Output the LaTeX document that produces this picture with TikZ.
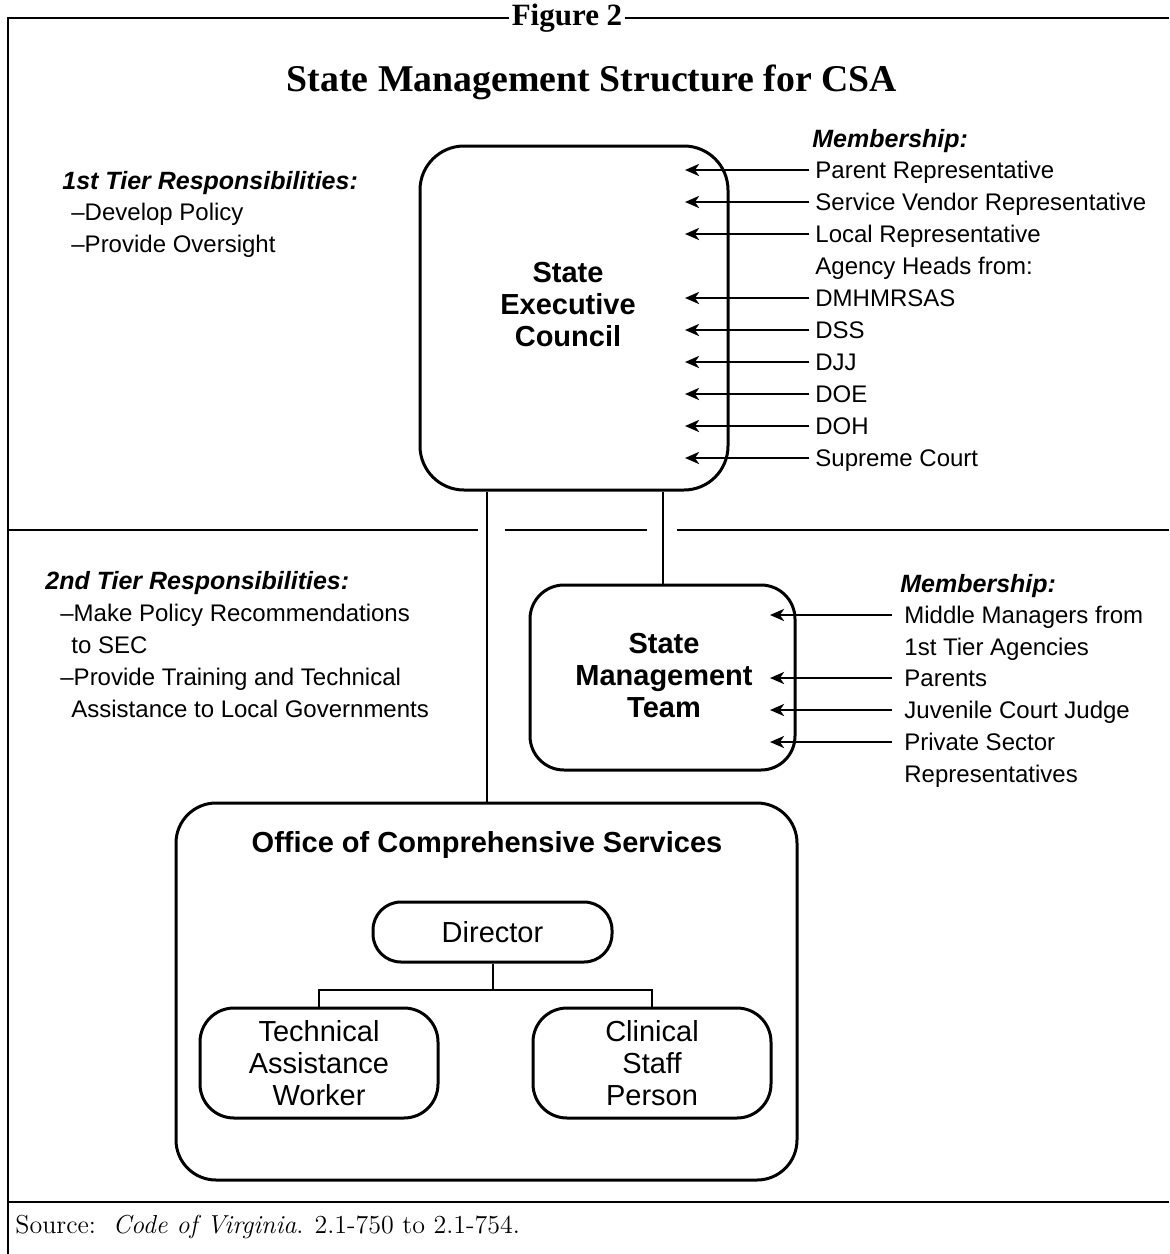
\documentclass[tikz,border=0pt]{standalone}
\usepackage{fontspec}
\setsansfont{Liberation Sans}
\newfontfamily\timesf{Liberation Serif}
\usetikzlibrary{arrows.meta}
\tikzset{
  frameline/.style={line width=1pt},
  box/.style={draw, line width=1.5pt, inner sep=0pt, align=center},
  conn/.style={line width=1pt},
  arr/.style={line width=1.3pt, -{Stealth[length=7pt,width=6pt,inset=2pt]}},
  memb/.style={font=\sffamily\fontsize{12}{16}\selectfont, anchor=west, inner xsep=3pt, inner ysep=0pt, text height=8.6pt, text depth=0pt},
  membhead/.style={font=\sffamily\bfseries\itshape\fontsize{12.5}{16}\selectfont, anchor=west, inner xsep=0pt, inner ysep=0pt, text height=9pt, text depth=0pt},
  btext/.style={font=\sffamily\bfseries\fontsize{14.5}{16}\selectfont, align=center, inner sep=0pt},
  rtext/.style={font=\sffamily\fontsize{14.5}{16}\selectfont}
}
\begin{document}
\begin{tikzpicture}[x=0.5pt,y=-0.5pt]
\useasboundingbox (0,0) rectangle (1169,1254);

% frame
\node[font=\timesf\bfseries\fontsize{15.5}{18}\selectfont, inner xsep=1pt, inner ysep=0pt] (fig) at (567,18) {Figure 2};
\coordinate (tl) at (8,18);
\coordinate (tr) at (1169,18);
\coordinate (bl) at (8,1202);
\coordinate (br) at (1169,1202);
\draw[frameline] (fig.west |- tl) -- (tl) -- (8,1254);
\draw[frameline] (fig.east |- tr) -- (tr);
\draw[frameline] (bl) -- (br);

\node[font=\timesf\bfseries\fontsize{18.9}{22}\selectfont] (title) at (592,82) {State Management Structure for CSA};

% divider
\draw[frameline] (8,530) -- (478,530);
\draw[frameline] (505,530) -- (647,530);
\draw[frameline] (677,530) -- (1169,530);

% State Executive Council
\node[box, minimum width=154pt, minimum height=172pt, rounded corners=22pt] (sec) at (574,318) {};
\node[btext] (sectxt) at (568,305) {State\\Executive\\Council};

\node[membhead] (h1) at (812,138) {Membership:};
\node[memb] (m1) at (809,170) {Parent Representative};
\node[memb] (m2) at (809,202) {Service Vendor Representative};
\node[memb] (m3) at (809,234) {Local Representative};
\node[memb] (m4) at (809,266) {Agency Heads from:};
\node[memb] (m5) at (809,298) {DMHMRSAS};
\node[memb] (m6) at (809,330) {DSS};
\node[memb] (m7) at (809,362) {DJJ};
\node[memb] (m8) at (809,394) {DOE};
\node[memb] (m9) at (809,426) {DOH};
\node[memb] (m10) at (809,458) {Supreme Court};
\coordinate (secin) at (685,0);
\foreach \m in {m1,m2,m3,m5,m6,m7,m8,m9,m10}
  \draw[arr] (\m.west) -- (\m.west -| secin);

% 1st tier
\node[membhead] (t1) at (62,180) {1st Tier Responsibilities:};
\node[memb] (t1a) at (65,212) {--Develop Policy};
\node[memb] (t1b) at (65,244) {--Provide Oversight};

% State Management Team
\node[box, minimum width=132.5pt, minimum height=92.5pt, rounded corners=17pt] (smt) at (662.5,677.5) {};
\node[btext] (smttxt) at (664,676) {State\\Management\\Team};

\node[membhead] (h2) at (900,583) {Membership:};
\node[memb, inner xsep=6pt] (s1) at (892,615) {Middle Managers from};
\node[memb, inner xsep=6pt] (s1b) at (892,647) {1st Tier Agencies};
\node[memb, inner xsep=6pt] (s2) at (892,678) {Parents};
\node[memb, inner xsep=6pt] (s3) at (892,710) {Juvenile Court Judge};
\node[memb, inner xsep=6pt] (s4) at (892,742) {Private Sector};
\node[memb, inner xsep=6pt] (s4b) at (892,774) {Representatives};
\coordinate (smtin) at (770,0);
\foreach \m in {s1,s2,s3,s4}
  \draw[arr] (\m.west) -- (\m.west -| smtin);

% 2nd tier
\node[membhead] (t2) at (45,580) {2nd Tier Responsibilities:};
\node[memb] (t2a) at (54,613) {--Make Policy Recommendations};
\node[memb] (t2b) at (65,645) {to SEC};
\node[memb] (t2c) at (54,677) {--Provide Training and Technical};
\node[memb] (t2d) at (65,709) {Assistance to Local Governments};

% Office of Comprehensive Services
\node[box, minimum width=310.5pt, minimum height=188.5pt, rounded corners=20pt] (ocs) at (486.5,991.5) {};
\node[btext] (ocstxt) at (487,845) {Office of Comprehensive Services};

\node[box, rtext, minimum width=119.5pt, minimum height=30pt, rounded corners=14pt] (dir) at (492.5,932) {Director};
\node[box, rtext, minimum width=119pt, minimum height=55pt, rounded corners=17pt] (taw) at (319,1063) {Technical\\Assistance\\Worker};
\node[box, rtext, minimum width=119pt, minimum height=55pt, rounded corners=17pt] (csp) at (652,1063) {Clinical\\Staff\\Person};

% connectors
\draw[conn] (ocs.north) -- (ocs.north |- sec.south);
\draw[conn] (smt.north) -- (smt.north |- sec.south);
\coordinate (bar) at (0,990);
\draw[conn] (dir.south) -- (dir.south |- bar);
\draw[conn] (taw.north) |- (dir.south |- bar) -| (csp.north);

% source
\node[anchor=west, font=\fontsize{13}{15}\selectfont, inner sep=0pt] (src) at (15,1227) {Source:\ \ \textit{Code of Virginia}. 2.1-750 to 2.1-754.};
\end{tikzpicture}
\end{document}
